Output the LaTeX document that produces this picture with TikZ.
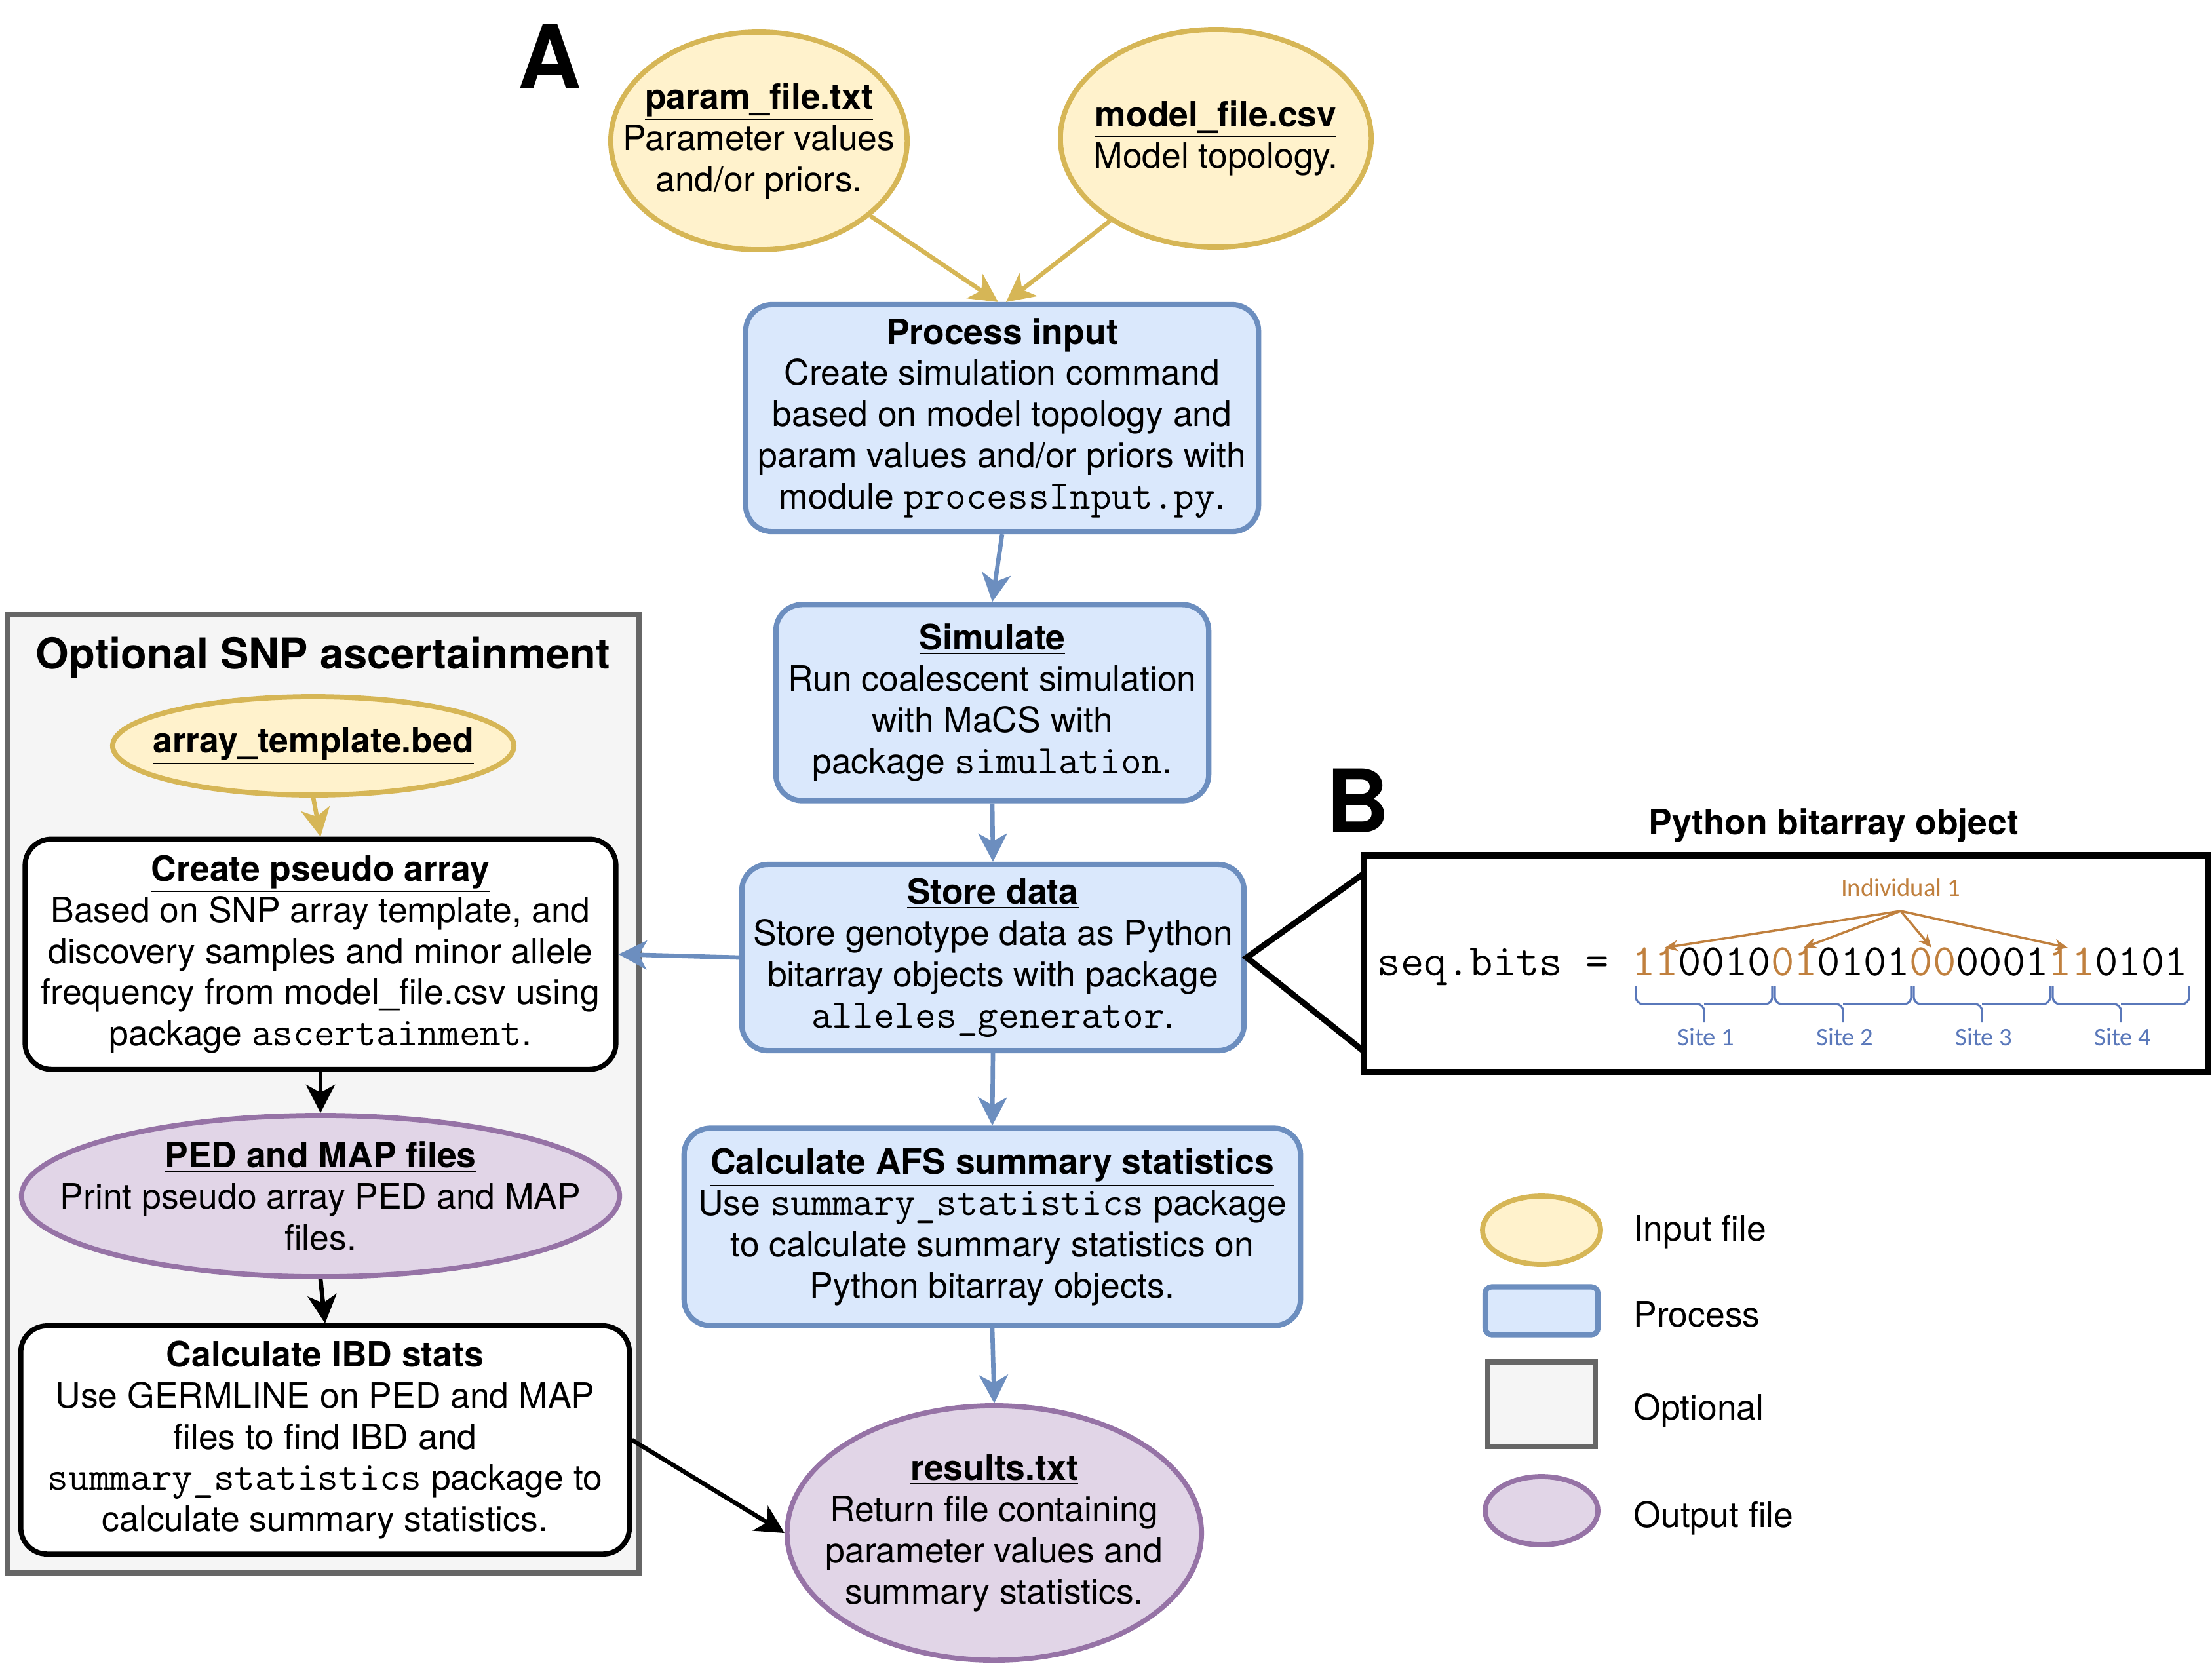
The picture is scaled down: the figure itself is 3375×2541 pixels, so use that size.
\documentclass[tikz,border=0pt]{standalone}
\usepackage{fontspec}
\setmainfont{TeX Gyre Heros}
\newfontfamily\sitefont{Carlito}
\usepackage{tikz}
\usetikzlibrary{shapes.geometric,arrows.meta}
\definecolor{infill}{HTML}{FFF2CC}
\definecolor{inline}{HTML}{D6B656}
\definecolor{procfill}{HTML}{DAE8FC}
\definecolor{procline}{HTML}{6C8EBF}
\definecolor{outfill}{HTML}{E1D5E7}
\definecolor{outline}{HTML}{9673A6}
\definecolor{optfill}{HTML}{F5F5F5}
\definecolor{optline}{HTML}{666666}
\definecolor{bitorange}{HTML}{C0803E}
\definecolor{siteblue}{HTML}{5A78BA}
\newcommand{\code}[1]{{\fontsize{17.5}{17.9}\selectfont\ttfamily #1}}
\newcommand{\bitc}[1]{\textcolor{bitorange}{#1}}
\newcommand{\head}[1]{\underline{\textbf{#1}}}
\tikzset{
  infile/.style={ellipse,draw=inline,fill=infill,line width=2.2pt,inner sep=0pt},
  outfile/.style={ellipse,draw=outline,fill=outfill,line width=2.2pt,inner sep=0pt},
  intext/.style={label={[align=center]center:{#1}}},
  procbox/.style={rectangle,rounded corners=0.4cm,draw=procline,fill=procfill,line width=2.3pt,inner sep=0pt,align=center},
  optbox/.style={rectangle,draw=optline,fill=optfill,line width=2.3pt,inner sep=0pt},
  blackbox/.style={rectangle,rounded corners=0.4cm,draw=black,fill=white,line width=2.2pt,inner sep=0pt,align=center},
  flowarrow/.style={-{Stealth[length=0.43cm,width=0.44cm,inset=0.12cm]},line width=1.9pt},
  goldarrow/.style={flowarrow,draw=inline,fill=inline},
  bluearrow/.style={flowarrow,draw=procline,fill=procline},
  blackarrow/.style={flowarrow,draw=black},
  indarrow/.style={-{Stealth[length=0.2cm,width=0.17cm]},line width=1pt,draw=bitorange},
  sitebrace/.style={draw=siteblue,line width=0.9pt,rounded corners=3}
}

\begin{document}
\begin{tikzpicture}[x=0.01cm,y=0.01cm,yscale=-1,font=\fontsize{15.2}{17.9}\selectfont]
\useasboundingbox (0,0) rectangle (3375,2541);

%Shape: Optional region
\node[optbox,minimum width=9.64cm,minimum height=14.62cm] (opt) at (493,1669) {};
% Text Node
\node[font=\fontsize{18.5}{20}\selectfont\bfseries] (opttitle) at (493,1003) {Optional SNP ascertainment};

% Panel labels
\node[font=\fontsize{38}{40}\selectfont\bfseries] (labA) at (839,86) {A};
\node[font=\fontsize{38}{40}\selectfont\bfseries] (labB) at (2072,1222) {B};

%Shape: Ellipse (inputs)
\node[infile,minimum width=4.52cm,minimum height=3.32cm,
  intext={\head{param\_file.txt}\\Parameter values\\and/or priors.}] (param) at (1158,215) {};
\node[infile,minimum width=4.74cm,minimum height=3.32cm,
  intext={\head{model\_file.csv}\\Model topology.}] (model) at (1855,211) {};

%Shape: main pipeline
\node[procbox,minimum width=7.82cm,minimum height=3.46cm] (proc) at (1529,638)
  {\head{Process input}\\Create simulation command\\based on model topology and\\param values and/or priors with\\module \code{processInput.py}.};
\node[procbox,minimum width=6.60cm,minimum height=2.99cm] (sim) at (1514,1072)
  {\head{Simulate}\\Run coalescent simulation\\with MaCS with\\package \code{simulation}.};
\node[procbox,minimum width=7.66cm,minimum height=2.84cm] (store) at (1515,1461)
  {\head{Store data}\\Store genotype data as Python\\bitarray objects with package\\\code{alleles\_generator}.};
\node[procbox,minimum width=9.40cm,minimum height=3.01cm] (afs) at (1514,1872)
  {\head{Calculate AFS summary statistics}\\Use \code{summary\_statistics} package\\to calculate summary statistics on\\Python bitarray objects.};
\node[outfile,minimum width=6.32cm,minimum height=3.88cm,
  intext={\head{results.txt}\\Return file containing\\parameter values and\\summary statistics.}] (results) at (1517,2339) {};

%Shape: optional pipeline
\node[infile,minimum width=6.12cm,minimum height=1.50cm,
  intext={\head{array\_template.bed}}] (tmpl) at (478,1138) {};
\node[blackbox,minimum width=9.01cm,minimum height=3.51cm] (pseudo) at (489,1456)
  {\head{Create pseudo array}\\Based on SNP array template, and\\discovery samples and minor allele\\frequency from model\_file.csv using\\package \code{ascertainment}.};
\node[outfile,minimum width=9.12cm,minimum height=2.46cm,
  intext={\head{PED and MAP files}\\Print pseudo array PED and MAP\\files.}] (ped) at (489,1825) {};
\node[blackbox,minimum width=9.28cm,minimum height=3.48cm] (ibd) at (496,2197)
  {\head{Calculate IBD stats}\\Use GERMLINE on PED and MAP\\files to find IBD and\\\code{summary\_statistics} package to\\calculate summary statistics.};

%Straight Lines
\draw[goldarrow] (param) -- ([xshift=-0.06cm]proc.north);
\draw[goldarrow] (model) -- ([xshift=0.06cm]proc.north);
\draw[bluearrow] (proc.south) -- (sim.north);
\draw[bluearrow] (sim.south) -- (store.north);
\draw[bluearrow] (store.south) -- (afs.north);
\draw[bluearrow] (afs.south) -- (results.north);
\draw[bluearrow] (store.west) -- (pseudo.east);
\draw[goldarrow] (tmpl.south) -- (pseudo.north);
\draw[blackarrow] (pseudo.south) -- (ped.north);
\draw[blackarrow] (ped.south) -- (ibd.north);
\draw[blackarrow] (ibd.east) -- (results.west);

%Panel B: bitarray
\node[font=\fontsize{15.2}{17}\selectfont\bfseries] (bittitle) at (2798,1259) {Python bitarray object};
\node[rectangle,draw=black,line width=2.6pt,minimum width=12.86cm,minimum height=3.30cm] (bitbox) at (2725,1470) {};
\coordinate (wtop) at (2082,1332);
\coordinate (wbot) at (2082,1605);
\draw[line width=2.6pt,line join=miter] (wtop) -- (store.east) -- (wbot);
% Text Node
\node[anchor=west,inner sep=0pt,font=\fontsize{19.5}{20}\selectfont\ttfamily] (seqbits) at (2101,1475)
  {seq.bits = \bitc{11}0010\bitc{01}0101\bitc{00}0001\bitc{11}0101};
\node[inner sep=0pt,text=bitorange,font=\fontsize{11}{12}\selectfont\sitefont] (indiv) at (2900,1354) {Individual 1};
\coordinate (indsrc) at (2900,1390);
\foreach \n/\t in {1/2540,2/2752,3/2947,4/3155} {
  \coordinate (bit\n) at (\t,1446);
  \draw[indarrow] (indsrc) -- (bit\n);
}
% braces under each site
\foreach \s/\n in {0/1,1/2,2/3,3/4} {
  \draw[sitebrace] ({2496+212*\s},1505) |- ({2600+212*\s},1532) -- ({2600+212*\s},1560);
  \draw[sitebrace] ({2600+212*\s},1532) -| ({2704+212*\s},1505);
  \node[inner sep=0pt,text=siteblue,font=\fontsize{11}{12}\selectfont\sitefont] (site\n) at ({2603+212*\s},1582) {Site \n};
}

%Legend
\node[infile,minimum width=1.80cm,minimum height=1.04cm] (leg1) at (2352,1877) {};
\node[procbox,rounded corners=0.1cm,minimum width=1.72cm,minimum height=0.73cm] (leg2) at (2352,2000) {};
\node[optbox,minimum width=1.64cm,minimum height=1.29cm] (leg3) at (2352,2142) {};
\node[outfile,minimum width=1.72cm,minimum height=1.04cm] (leg4) at (2352,2305) {};
\node[anchor=west,inner sep=0pt] (leg1txt) at (2492,1880) {Input file};
\node[anchor=west,inner sep=0pt] (leg2txt) at (2492,2005) {Process};
\node[anchor=west,inner sep=0pt] (leg3txt) at (2492,2152) {Optional};
\node[anchor=west,inner sep=0pt] (leg4txt) at (2492,2316) {Output file};

\end{tikzpicture}
\end{document}
